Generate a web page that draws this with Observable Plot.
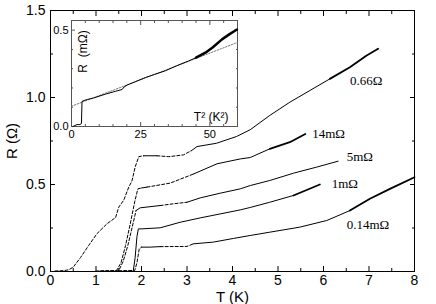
<!DOCTYPE html>
<html><head><meta charset="utf-8">
<script src="https://cdn.jsdelivr.net/npm/d3@7"></script>
<script src="https://cdn.jsdelivr.net/npm/@observablehq/plot@0.6"></script>
<style>
body{margin:0;background:#fff;}
#wrap{position:relative;width:436px;height:304px;}
#inset{position:absolute;left:40px;top:12px;}
</style></head><body><div id="wrap"><div id="main"></div><div id="inset"></div></div>
<script>
// ---- main panel data: T (K) vs R (Ohm) ----
const T_066 = [0.1, 0.3, 0.4, 0.5, 0.66, 0.84, 1.02, 1.24, 1.43, 1.5, 1.61, 1.72, 1.79, 1.86, 1.94, 2.05, 2.34, 2.6, 2.92, 3.1, 3.22, 3.65, 4.09, 4.39, 4.82, 5.26, 5.7, 6.14, 6.58, 6.94, 7.2];
const R_066 = [0.003, 0.005, 0.01, 0.025, 0.08, 0.15, 0.217, 0.274, 0.31, 0.37, 0.41, 0.485, 0.52, 0.6, 0.66, 0.665, 0.665, 0.66, 0.67, 0.695, 0.718, 0.737, 0.776, 0.815, 0.897, 0.973, 1.04, 1.107, 1.174, 1.24, 1.28];
const T_14m = [1.0, 1.45, 1.55, 1.65, 1.75, 1.85, 1.92, 2.0, 2.12, 2.63, 3.14, 3.66, 4.17, 4.39, 4.82, 5.26, 5.6];
const R_14m = [0.003, 0.005, 0.05, 0.15, 0.27, 0.4, 0.475, 0.48, 0.485, 0.508, 0.56, 0.619, 0.647, 0.655, 0.705, 0.743, 0.79];
const T_5m = [1.1, 1.5, 1.6, 1.7, 1.8, 1.88, 1.97, 2.41, 2.7, 3.0, 3.29, 3.73, 4.17, 4.39, 4.82, 5.34, 5.85, 6.32];
const R_5m = [0.003, 0.005, 0.06, 0.15, 0.26, 0.35, 0.366, 0.379, 0.389, 0.398, 0.423, 0.45, 0.475, 0.494, 0.523, 0.565, 0.6, 0.634];
const T_1m = [1.5, 1.82, 1.86, 1.9, 1.93, 2.01, 2.41, 2.85, 3.29, 3.73, 4.17, 4.39, 4.82, 5.34, 5.92];
const R_1m = [0.003, 0.005, 0.08, 0.2, 0.245, 0.245, 0.251, 0.283, 0.308, 0.331, 0.354, 0.368, 0.398, 0.437, 0.5];
const T_014m = [1.5, 1.85, 1.9, 1.95, 2.0, 2.19, 2.41, 3.0, 3.14, 3.58, 4.02, 4.39, 4.82, 5.48, 6.07, 6.58, 7.02, 7.46, 8.0];
const R_014m = [0.003, 0.005, 0.05, 0.13, 0.14, 0.14, 0.143, 0.144, 0.159, 0.169, 0.19, 0.207, 0.226, 0.255, 0.293, 0.35, 0.418, 0.475, 0.542];
const curveNames = ["0.66Ω", "14mΩ", "5mΩ", "1mΩ", "0.14mΩ"];
const labelT = [6.58, 5.75, 6.51, 6.18, 6.51];
const labelR = [1.098, 0.793, 0.661, 0.506, 0.27];
const xTicks = [0, 1, 2, 3, 4, 5, 6, 7, 8];
const yTicks = [0, 0.5, 1.0, 1.5];

// ---- inset data: T^2 (K^2) vs R (mOhm) ----
const IT2 = [0.5, 2.0, 3.0, 3.6, 3.8, 4.5, 5.7, 8, 12.3, 16, 18.3, 19.0, 20.1, 23, 26.7, 30, 33.9, 38, 42.3, 45, 48.4, 51, 54.4, 57, 59.8];
const IR = [0.0, 0.01, 0.01, 0.015, 0.13, 0.135, 0.14, 0.148, 0.168, 0.183, 0.192, 0.205, 0.215, 0.232, 0.254, 0.27, 0.289, 0.315, 0.34, 0.357, 0.383, 0.41, 0.452, 0.478, 0.503];
const FIT_T2 = [0, 60];
const FIT_R = [0.105, 0.436];
const insetXTicks = [0, 25, 50];
const insetYTicks = [0, 0.5];

// ---- drawing ----
const curveStyle = [
  {d: [[0, 2.0], [2.3, 3.1]], t: [[6.0, 7.3]]},
  {d: [[0, 2.0], [2.1, 3.1]], t: [[5.0, 5.7]]},
  {d: [[0, 1.9], [2.4, 3.0]], t: []},
  {d: [[0, 1.82]], t: [[5.2, 6.0]]},
  {d: [[0, 2.0], [2.4, 3.1]], t: [[6.4, 8.1]]}
];
function runs(Ts, Rs, st, key) {
  const rows = [];
  let run = -1, prev = null;
  for (let i = 0; i < Ts.length - 1; i++) {
    const mid = (Ts[i] + Ts[i + 1]) / 2;
    let s = "s";
    if ((st.d || []).some(([a, b]) => mid >= a && mid <= b)) s = "d";
    else if ((st.t || []).some(([a, b]) => mid >= a && mid <= b)) s = "t";
    if (s !== prev) { run++; rows.push({T: Ts[i], R: Rs[i], run: key + run, s}); prev = s; }
    rows.push({T: Ts[i + 1], R: Rs[i + 1], run: key + run, s});
  }
  return rows;
}
const allT = [T_066, T_14m, T_5m, T_1m, T_014m];
const allR = [R_066, R_14m, R_5m, R_1m, R_014m];
const rows = allT.flatMap((Ts, k) => runs(Ts, allR[k], curveStyle[k], "c" + k));
const labels = curveNames.map((n, i) => ({n, T: labelT[i], R: labelR[i]}));
const minorX = d3.range(0, 8.001, 0.5).filter(v => v % 1 !== 0);
const minorY = d3.range(0, 1.501, 0.25).filter(v => Math.abs(v / 0.5 - Math.round(v / 0.5)) > 1e-6);
const none = () => "";

const main = Plot.plot({
  width: 436, height: 304,
  marginLeft: 50, marginRight: 22, marginTop: 10, marginBottom: 33,
  style: {fontFamily: "Liberation Sans, Arial, sans-serif", fontSize: "14px", background: "white"},
  x: {domain: [0, 8]},
  y: {domain: [0, 1.5]},
  marks: [
    Plot.frame({stroke: "black"}),
    Plot.axisX(xTicks, {anchor: "bottom", tickSize: -5, tickFormat: none, label: null}),
    Plot.axisX(minorX, {anchor: "bottom", tickSize: -3, tickFormat: none, label: null}),
    Plot.axisX(xTicks, {anchor: "top", tickSize: -5, tickFormat: none, label: null}),
    Plot.axisX(minorX, {anchor: "top", tickSize: -3, tickFormat: none, label: null}),
    Plot.axisY(yTicks, {anchor: "left", tickSize: -5, tickFormat: none, label: null}),
    Plot.axisY(minorY, {anchor: "left", tickSize: -3, tickFormat: none, label: null}),
    Plot.axisY(yTicks, {anchor: "right", tickSize: -5, tickFormat: none, label: null}),
    Plot.axisY(minorY, {anchor: "right", tickSize: -3, tickFormat: none, label: null}),
    Plot.axisX(xTicks, {anchor: "bottom", tickSize: 0, tickPadding: 4, tickFormat: d => d.toFixed(0), label: null, fill: "black"}),
    Plot.axisY(yTicks, {anchor: "left", tickSize: 0, tickPadding: 5, tickFormat: d => d.toFixed(1), label: null, fill: "black"}),
    Plot.text(["T (K)"], {frameAnchor: "bottom", text: d => d, dy: 26, fontSize: 15, textAnchor: "middle", lineAnchor: "middle"}),
    Plot.text(["R (Ω)"], {frameAnchor: "left", text: d => d, dx: -38, rotate: -90, fontSize: 15, textAnchor: "middle", lineAnchor: "middle"}),
    Plot.line(rows.filter(d => d.s === "s"), {x: "T", y: "R", z: "run", stroke: "black", strokeWidth: 1}),
    Plot.line(rows.filter(d => d.s === "d"), {x: "T", y: "R", z: "run", stroke: "black", strokeWidth: 1, strokeDasharray: "3,2"}),
    Plot.line(rows.filter(d => d.s === "t"), {x: "T", y: "R", z: "run", stroke: "black", strokeWidth: 1.8}),
    Plot.text(labels, {x: "T", y: "R", text: "n", textAnchor: "start", fontFamily: "Liberation Serif, Times New Roman, serif", fontSize: 13})
  ]
});
document.getElementById("main").append(main);

// inset
const iStyle = {d: [], t: [[44, 61]]};
const irows = runs(IT2, IR, iStyle, "i");
const fit = FIT_T2.map((t, i) => ({T: t, R: FIT_R[i]}));
const iMinorX = d3.range(0, 60.001, 5).filter(v => v % 25 !== 0);
const iMinorY = d3.range(0, 0.5501, 0.1).filter(v => Math.abs(v % 0.5) > 1e-6 && Math.abs(v - 0.5) > 1e-6);
const inset = Plot.plot({
  width: 205, height: 132,
  marginLeft: 31, marginRight: 8, marginTop: 8, marginBottom: 18,
  style: {fontFamily: "Liberation Sans, Arial, sans-serif", fontSize: "11px", background: "transparent"},
  x: {domain: [0, 60]},
  y: {domain: [0, 0.55]},
  marks: [
    Plot.frame({stroke: "#555"}),
    Plot.axisX(insetXTicks, {anchor: "bottom", tickSize: -4, tickFormat: none, label: null, stroke: "#555"}),
    Plot.axisX(iMinorX, {anchor: "bottom", tickSize: -2, tickFormat: none, label: null, stroke: "#555"}),
    Plot.axisX(insetXTicks, {anchor: "top", tickSize: -4, tickFormat: none, label: null, stroke: "#555"}),
    Plot.axisX(iMinorX, {anchor: "top", tickSize: -2, tickFormat: none, label: null, stroke: "#555"}),
    Plot.axisY(insetYTicks, {anchor: "left", tickSize: -4, tickFormat: none, label: null, stroke: "#555"}),
    Plot.axisY(iMinorY, {anchor: "left", tickSize: -2, tickFormat: none, label: null, stroke: "#555"}),
    Plot.axisY(insetYTicks, {anchor: "right", tickSize: -4, tickFormat: none, label: null, stroke: "#555"}),
    Plot.axisY(iMinorY, {anchor: "right", tickSize: -2, tickFormat: none, label: null, stroke: "#555"}),
    Plot.axisX(insetXTicks, {anchor: "bottom", tickSize: 0, tickPadding: 4, tickFormat: d => d.toFixed(0), label: null, fill: "black"}),
    Plot.axisY(insetYTicks, {anchor: "left", tickSize: 0, tickPadding: 3, tickFormat: d => d.toFixed(1), label: null, fill: "black"}),
    Plot.line(fit, {x: "T", y: "R", stroke: "#777", strokeWidth: 1, strokeDasharray: "1.5,1.5"}),
    Plot.line(irows.filter(d => d.s === "s"), {x: "T", y: "R", z: "run", stroke: "black", strokeWidth: 1}),
    Plot.line(irows.filter(d => d.s === "t"), {x: "T", y: "R", z: "run", stroke: "black", strokeWidth: 2.5}),
    Plot.text(["T² (K²)"], {frameAnchor: "bottom-right", text: d => d, dx: -9, dy: -9, textAnchor: "end", lineAnchor: "middle", fontSize: 12}),
    Plot.text(["R  (mΩ)"], {frameAnchor: "top-left", text: d => d, dx: 12, dy: 31, rotate: -90, textAnchor: "middle", lineAnchor: "middle", fontSize: 12})
  ]
});
document.getElementById("inset").append(inset);
</script></body></html>
